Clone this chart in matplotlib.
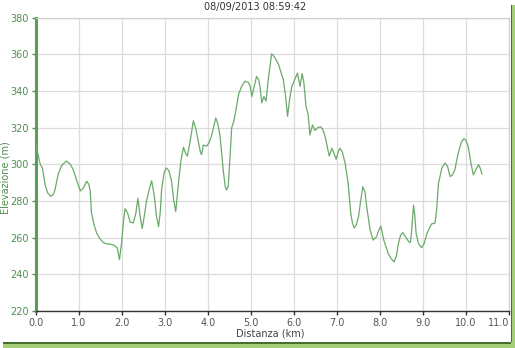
import matplotlib
matplotlib.use("Agg")
import matplotlib.pyplot as plt
from matplotlib.patches import Rectangle

title = "08/09/2013 08:59:42"
x_label = "Distanza (km)"
y_label = "Elevazione (m)"
x_ticks = [0, 1, 2, 3, 4, 5, 6, 7, 8, 9, 10, 11]
y_ticks = [220, 240, 260, 280, 300, 320, 340, 360, 380]

dist = [0.00, 0.05, 0.10, 0.15, 0.21, 0.27, 0.34, 0.40, 0.44, 0.52, 0.60, 0.71, 0.80, 0.87,
        0.95, 1.03, 1.10, 1.18, 1.23, 1.26, 1.29, 1.35, 1.41, 1.50, 1.57, 1.65, 1.72, 1.80,
        1.89, 1.94, 1.99, 2.03, 2.07, 2.13, 2.19, 2.26, 2.32, 2.37, 2.42, 2.47, 2.52, 2.57,
        2.63, 2.69, 2.75, 2.80, 2.85, 2.89, 2.92, 2.98, 3.03, 3.09, 3.15, 3.20, 3.25, 3.31,
        3.37, 3.43, 3.48, 3.52, 3.58, 3.66, 3.72, 3.77, 3.82, 3.85, 3.89, 3.97, 4.03, 4.08,
        4.18, 4.23, 4.28, 4.33, 4.36, 4.40, 4.43, 4.47, 4.51, 4.55, 4.60, 4.66, 4.71, 4.78,
        4.86, 4.94, 4.98, 5.02, 5.07, 5.13, 5.18, 5.21, 5.25, 5.30, 5.35, 5.40, 5.48, 5.55,
        5.64, 5.70, 5.75, 5.80, 5.85, 5.90, 5.95, 6.02, 6.08, 6.14, 6.19, 6.23, 6.28, 6.33,
        6.37, 6.43, 6.49, 6.55, 6.62, 6.67, 6.72, 6.77, 6.82, 6.88, 6.93, 6.98, 7.03, 7.07,
        7.12, 7.19, 7.26, 7.32, 7.36, 7.40, 7.45, 7.50, 7.55, 7.60, 7.65, 7.69, 7.77, 7.84,
        7.92, 7.97, 8.02, 8.09, 8.19, 8.26, 8.33, 8.38, 8.43, 8.48, 8.53, 8.62, 8.68, 8.71,
        8.74, 8.78, 8.81, 8.84, 8.90, 8.97, 9.03, 9.09, 9.20, 9.28, 9.32, 9.36, 9.44, 9.51,
        9.57, 9.63, 9.68, 9.74, 9.82, 9.89, 9.95, 10.00, 10.05, 10.12, 10.17, 10.23, 10.29,
        10.33, 10.37]

elev = [311, 305, 300, 298, 289, 284.5, 282.5, 283.5, 286, 295, 299.5, 301.8, 300, 296.8,
        291, 285.5, 287, 290.8, 289, 285.5, 273.5, 267, 262.5, 259, 257.3, 256.6, 256.5, 256,
        254.5, 248, 257, 268, 275.8, 273.5, 268.5, 268, 273, 281.5, 272, 265, 272, 280,
        286, 291, 283, 272, 266, 274, 286, 295.5, 298, 296.5, 291, 281, 274.2, 289,
        302, 309.3, 306, 304.5, 312, 323.8, 319, 313, 307, 305.3, 310.5, 310, 312, 315.5,
        325.3, 322, 315.5, 303, 295.5, 288, 286, 288, 303, 319.8, 323.5, 331, 338, 342.5,
        345.3, 344.7, 342.5, 337, 342, 348, 346, 342.3, 333.5, 337, 334.5, 346, 360.3, 358.5,
        354.5, 350, 346.3, 338, 326.2, 336, 342.5, 346.5, 349.8, 342.5, 349.5, 344.5, 331.5, 327,
        316, 321.5, 318.5, 320, 320.5, 319, 315.5, 310, 304.5, 308.8, 306, 302.8, 307, 308.8,
        307, 300.5, 289.5, 273.2, 268, 265.3, 267, 271.5, 280, 287.8, 285, 277, 264.2, 258.7,
        260.5, 264, 266.3, 258.5, 251.4, 248.5, 246.8, 250, 257, 261.5, 262.7, 259.5, 257.5, 257.5,
        265, 277.8, 272, 262.3, 256.5, 254.5, 257, 262.3, 267.5, 268, 276, 289.7, 298, 300.7,
        299, 293.4, 294, 297, 306.2, 312, 314, 313, 309.8, 300, 294.3, 297, 299.8,
        298, 294.8]

W, H = 515, 348
fig = plt.figure(figsize=(W / 100, H / 100), dpi=100)
fig.patch.set_facecolor("white")

# frame shadow (right and bottom)
fig.patches.append(Rectangle((510.5 / W, 5 / H), 4.5 / W, 338 / H, transform=fig.transFigure,
                             facecolor="#a6cf7a", edgecolor="none", zorder=0))
fig.patches.append(Rectangle((510.5 / W, 6 / H), 1.5 / W, 337 / H, transform=fig.transFigure,
                             facecolor="#456f2e", edgecolor="none", zorder=0))
fig.patches.append(Rectangle((3 / W, 0), 512 / W, 5.5 / H, transform=fig.transFigure,
                             facecolor="#a6cf7a", edgecolor="none", zorder=0))
fig.patches.append(Rectangle((3 / W, 4.5 / H), 508 / W, 1.5 / H, transform=fig.transFigure,
                             facecolor="#456f2e", edgecolor="none", zorder=0))

ax = fig.add_axes([36 / W, 1 - 311 / H, (509 - 36) / W, (311 - 17.7) / H])
ax.plot(dist, elev, color="#6aaa6a", lw=0.9, zorder=3)

ax.set_xlim(0, 11)
ax.set_ylim(220, 380)
ax.set_xticks(x_ticks)
ax.set_xticklabels([f"{v:.1f}" for v in x_ticks])
ax.set_yticks(y_ticks)
ax.grid(True, color="#dcdcdc", lw=0.9, zorder=0)

for s in ["top", "right"]:
    ax.spines[s].set_color("#d0d0d0")
    ax.spines[s].set_linewidth(0.9)
ax.spines["left"].set_color("#5a9e5a")
ax.spines["left"].set_linewidth(2.2)
ax.spines["bottom"].set_color("#333333")
ax.spines["bottom"].set_linewidth(1.0)

ax.tick_params(axis="y", colors="#4e8f4e", labelsize=7, length=3, width=1, pad=2,
               labelcolor="#4e8f4e")
ax.tick_params(axis="x", colors="#333333", labelsize=7, length=3, width=1, pad=2,
               labelcolor="#555555")
ax.get_xticklabels()[-1].set_horizontalalignment("right")

fig.text(255 / W, 1 - 7 / H, title, ha="center", va="center", fontsize=7, color="#333333")
fig.text(270 / W, 1 - 334 / H, x_label, ha="center", va="center", fontsize=7, color="#444444")
fig.text(6 / W, 1 - 178 / H, y_label, ha="center", va="center", rotation=90, fontsize=7,
         color="#4e8f4e")

fig.savefig("out.png", dpi=100)
